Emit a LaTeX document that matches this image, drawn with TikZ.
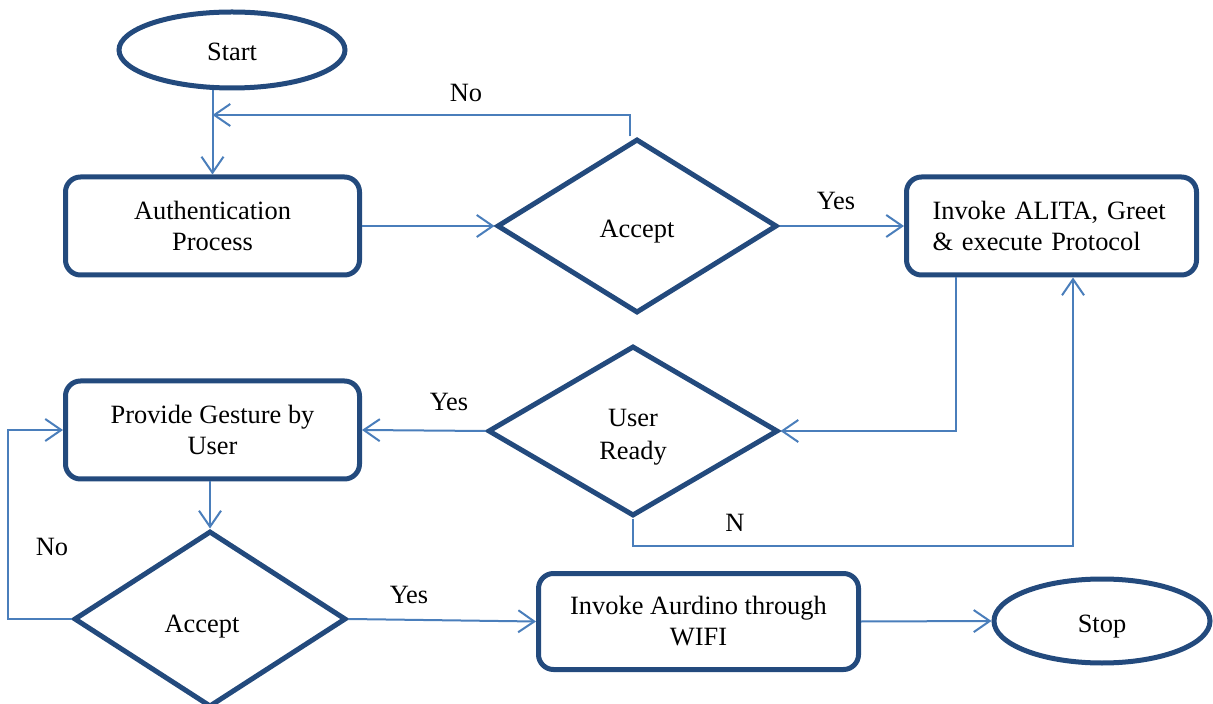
\documentclass[tikz,border=0pt]{standalone}
\usepackage{fontspec}
\setmainfont{Liberation Serif}
\usetikzlibrary{shapes.geometric,arrows.meta,calc}
\definecolor{boxc}{RGB}{35,74,125}
\definecolor{linec}{RGB}{74,126,187}
% move text inside a fixed-size shape: #1 = twice the horizontal shift, #2 = vertical shift
\newcommand{\mvtext}[3]{\raisebox{#2}[\height][\depth]{\makebox[0pt]{\hspace*{#1}#3}}}
\begin{document}
\begin{tikzpicture}[x=0.5pt,y=-0.5pt,
  font=\fontsize{13.2}{15.5}\selectfont,
  box/.style={draw=boxc, line width=2.5pt, rounded corners=7.5pt, minimum width=147pt, minimum height=49pt, align=center, inner sep=2pt},
  term/.style={draw=boxc, line width=2.5pt, ellipse, inner sep=0pt},
  decision/.style={draw=boxc, line width=2.5pt, diamond, inner sep=0pt, align=center},
  conn/.style={draw=linec, line width=1pt, -{Straight Barb[length=8pt,width=11pt,line width=1pt]}},
  lbl/.style={inner sep=0pt}]
\useasboundingbox (0,0) rectangle (1213,704);

% nodes
\node[term, minimum width=113pt, minimum height=38pt] (start) at (232,50) {\mvtext{0pt}{-1pt}{Start}};
\node[box] (auth) at (212.5,226) {Authentication\\Process};
\node[decision, minimum width=140pt, minimum height=87pt] (acc1) at (637,226) {\mvtext{0pt}{-3pt}{Accept}};
\node[box, minimum width=145pt, align=left, text width=119pt, inner xsep=13pt] (inv) at (1051.5,226) {Invoke ALITA, Greet\\\& execute Protocol};
\node[decision, minimum width=145pt, minimum height=85pt] (ur) at (633,431) {\mvtext{0pt}{-3pt}{\begin{tabular}{@{}c@{}}User\\[1pt]Ready\end{tabular}}};
\node[box] (prov) at (212.5,430) {Provide Gesture by\\User};
\node[decision, minimum width=136pt, minimum height=88pt] (acc2) at (210,619) {\mvtext{-8pt}{-4pt}{Accept}};
\node[box, minimum width=160pt, minimum height=48pt] (ard) at (698.5,621.5) {Invoke Aurdino through\\WIFI};
\node[term, minimum width=108pt, minimum height=42pt] (stop) at (1102,621) {\mvtext{0pt}{-3pt}{Stop}};

% connectors
\draw[conn] (auth.north |- start.south) -- (auth.north);
\draw[conn] ([xshift=-3.5pt]acc1.north) |- (auth.north |- 0,115);
\node[lbl] at (466,93) {No};
\draw[conn] (auth.east) -- (acc1.west);
\draw[conn] (acc1.east) -- (inv.west);
\node[lbl] at (836,201) {Yes};
\draw[conn] ($(inv.south west)+(52,0)$) |- (ur.east);
\draw[conn] (ur.south) -- ++(0,27) -| ($(inv.south west)+(169,0)$);
\node[lbl] at (735,523) {N};
\draw[conn] (ur.west) -- (prov.east);
\node[lbl] at (449,402) {Yes};
\draw[conn] (prov.south -| acc2.north) -- (acc2.north);
\draw[conn] (acc2.west) -- ++(-64,0) |- (prov.west);
\node[lbl] at (52,547) {No};
\draw[conn] (acc2.east) -- (ard.west);
\node[lbl] at (409,595) {Yes};
\draw[conn] (ard.east) -- (stop.west);
\end{tikzpicture}
\end{document}
